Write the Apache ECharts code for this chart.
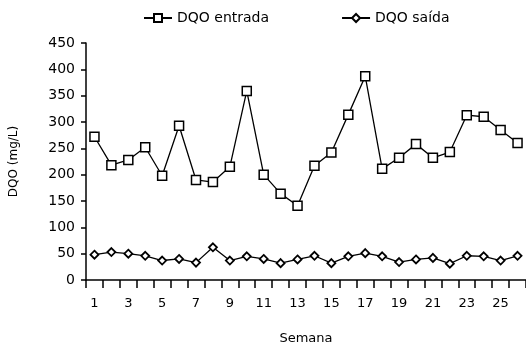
<!DOCTYPE html>
<html>
<head>
<meta charset="utf-8">
<script src="https://cdn.jsdelivr.net/npm/echarts@6/dist/echarts.min.js"></script>
<style>html,body{margin:0;padding:0;background:#fff}#c{width:526px;height:350px}</style>
</head>
<body>
<div id="c"></div>
<script>
var weeks = ['1','2','3','4','5','6','7','8','9','10','11','12','13','14','15','16','17','18','19','20','21','22','23','24','25','26'];
var dqoEntrada = [272,218,228,252,198,293,190,186,215,359,200,164,141,217,242,314,387,211,232,258,232,243,313,310,285,260];
var dqoSaida = [48,53,50,46,37,40,33,62,37,45,40,32,39,46,32,45,51,45,34,39,42,31,46,45,37,46];
var yTicks = {min:0, max:450, interval:50};
var seriesNames = ['DQO entrada','DQO saída'];

var font = 'DejaVu Sans';
var chart = echarts.init(document.getElementById('c'));
chart.setOption({
  animation:false,
  backgroundColor:'#fff',
  textStyle:{fontFamily:font,color:'#000'},
  legend:{
    top:6, left:138, itemGap:72, itemWidth:28, itemHeight:10,
    textStyle:{fontFamily:font,fontSize:14,color:'#000'},
    data:seriesNames
  },
  grid:{left:81, right:-6, top:43, bottom:65},
  xAxis:{
    type:'category', data:weeks, boundaryGap:true,
    name:'Semana', nameLocation:'middle', nameGap:52,
    nameTextStyle:{fontFamily:font,fontSize:13,color:'#000'},
    axisLine:{lineStyle:{color:'#000',width:1.5}},
    axisTick:{show:true,interval:0,length:8,lineStyle:{color:'#000',width:1.5}},
    axisLabel:{interval:1,margin:17,fontFamily:font,fontSize:13,color:'#000'},
    splitLine:{show:false}
  },
  yAxis:{
    type:'value', min:yTicks.min, max:yTicks.max, interval:yTicks.interval,
    name:'DQO (mg/L)', nameLocation:'middle', nameGap:66, nameRotate:90,
    nameTextStyle:{fontFamily:font,fontSize:12,color:'#000'},
    axisLine:{show:true,lineStyle:{color:'#000',width:1.5}},
    axisTick:{show:true,length:5,lineStyle:{color:'#000',width:1.5}},
    axisLabel:{margin:11,fontFamily:font,fontSize:14,color:'#000'},
    splitLine:{show:false}
  },
  series:[
    {name:seriesNames[0], type:'line', data:dqoEntrada, symbol:'rect', symbolSize:9,
     lineStyle:{color:'#000',width:1.3}, itemStyle:{color:'#fff',borderColor:'#000',borderWidth:1.5}},
    {name:seriesNames[1], type:'line', data:dqoSaida, symbol:'diamond', symbolSize:8,
     lineStyle:{color:'#000',width:1.3}, itemStyle:{color:'#fff',borderColor:'#000',borderWidth:1.8}}
  ]
});
</script>
</body>
</html>
